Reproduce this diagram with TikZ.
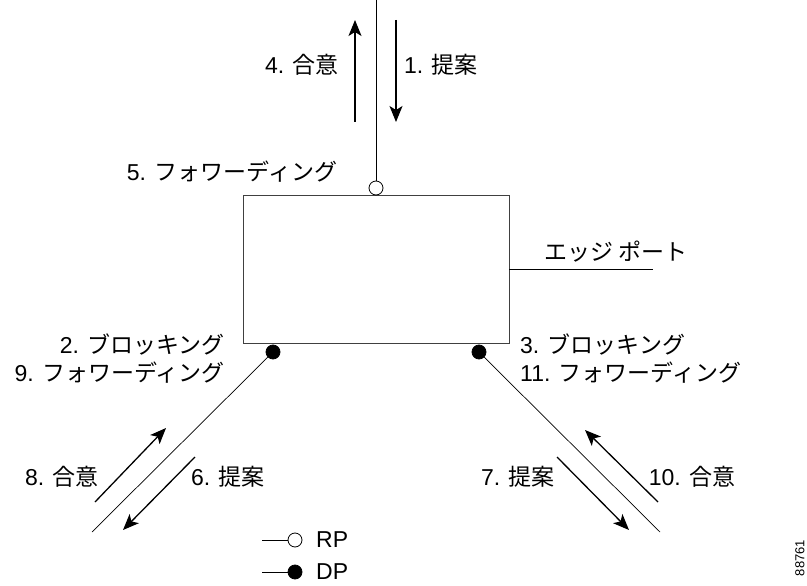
\documentclass[tikz,border=0pt]{standalone}
\usepackage{fontspec}
\setmainfont{Liberation Sans}
\newfontfamily\cjk{Noto Sans CJK JP}
\newcommand{\jp}[1]{{\cjk #1}}
\usetikzlibrary{arrows.meta}

\begin{document}
\begin{tikzpicture}[x=1pt,y=-1pt]
				\tikzstyle{every node}=[font=\fontsize{23}{27}\selectfont,inner sep=0pt]
				\tikzstyle{port}=[circle,draw,line width=0.8pt,minimum size=14pt]
				\tikzstyle{rport}=[port,fill=white]
				\tikzstyle{dport}=[port,fill=black]
				\tikzstyle{link}=[line width=0.7pt]
				\tikzstyle{msg}=[line width=1.3pt,-{Stealth[length=16pt,width=13pt,inset=4pt]}]
				\useasboundingbox (0,0) rectangle (807,586);
				
				% bridge and its ports
				\node[draw=black!75,line width=0.9pt,minimum width=266pt,minimum height=148pt] (bridge) at (376,269) {};
				\node[rport] (rp) at (376,188) {};
				\node[dport] (dpl) at (273,352) {};
				\node[dport] (dpr) at (479,352) {};
				\coordinate (up) at (376,0);
				\coordinate (edge) at (653,269);
				\coordinate (downl) at (92,532);
				\coordinate (downr) at (660,532);
				\draw[link] (up) -- (rp);
				\draw[link] (bridge.east |- edge) -- (edge);
				\draw[link] (dpl) -- (downl);
				\draw[link] (dpr) -- (downr);
				
				% messages
				\coordinate (m4a) at (355,122); \coordinate (m4b) at (355,20);
				\coordinate (m1a) at (396,20); \coordinate (m1b) at (396,122);
				\coordinate (m8a) at (95,502); \coordinate (m8b) at (166,428);
				\coordinate (m6a) at (195,457); \coordinate (m6b) at (123,530);
				\coordinate (m7a) at (557,457); \coordinate (m7b) at (629,530);
				\coordinate (m10a) at (658,502); \coordinate (m10b) at (585,430);
				\draw[msg] (m4a) -- (m4b);
				\draw[msg] (m1a) -- (m1b);
				\draw[msg] (m8a) -- (m8b);
				\draw[msg] (m6a) -- (m6b);
				\draw[msg] (m7a) -- (m7b);
				\draw[msg] (m10a) -- (m10b);
				
				% labels
				\node (l4) at (302,65) {4. \jp{合意}};
				\node (l1) at (441,65) {1. \jp{提案}};
				\node (l5) at (232,172) {5. \jp{フォワーディング}};
				\node (ledge) at (616,252) {\jp{エッジ ポート}};
				\node[anchor=east] (l2) at (225,345) {2. \jp{ブロッキング}};
				\node[anchor=east] (l9) at (225,373) {9. \jp{フォワーディング}};
				\node[anchor=west] (l3) at (520,345) {3. \jp{ブロッキング}};
				\node[anchor=west] (l11) at (520,373) {11. \jp{フォワーディング}};
				\node (l8) at (62,477) {8. \jp{合意}};
				\node (l6) at (228,477) {6. \jp{提案}};
				\node (l7) at (518,477) {7. \jp{提案}};
				\node (l10) at (692,477) {10. \jp{合意}};
				
				% legend
				\coordinate (krp) at (262,540);
				\coordinate (kdp) at (262,572);
				\node[rport] (rpkey) at (295,540) {};
				\node[dport] (dpkey) at (295,572) {};
				\draw[link] (krp) -- (rpkey);
				\draw[link] (kdp) -- (dpkey);
				\node[anchor=west] (lrp) at (316,540) {RP};
				\node[anchor=west] (ldp) at (316,572) {DP};
				\node[rotate=90,font=\fontsize{13}{15}\selectfont] (fig) at (800,558) {88761};
\end{tikzpicture}
\end{document}
